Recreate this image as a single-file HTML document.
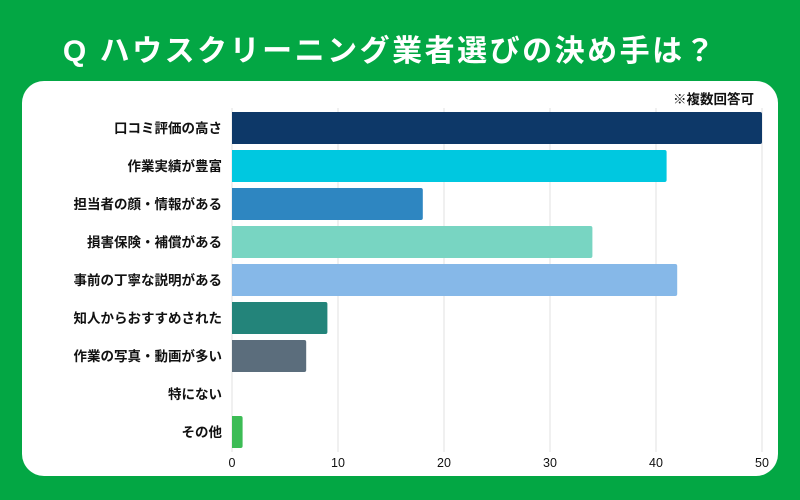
<!DOCTYPE html>
<html><head><meta charset="utf-8"><style>
body{margin:0;width:800px;height:500px;background:#03a744;font-family:"Liberation Sans","Noto Sans CJK JP",sans-serif;overflow:hidden;position:relative}
#title{position:absolute;left:0;top:26px;width:780px;text-align:center;color:#fff;font-size:30px;font-weight:bold;letter-spacing:2.5px}
#panel{position:absolute;left:22px;top:81px;width:756px;height:395px;background:#fff;border-radius:22px}
#note{position:absolute;right:46px;top:88px;font-size:13.5px;font-weight:bold;color:#111}
</style></head><body>
<div id="title">Q ハウスクリーニング業者選びの決め手は？</div>
<div id="panel"></div>
<div id="note">※複数回答可</div>
<svg id="chart" width="800" height="500" style="position:absolute;left:0;top:0"></svg>
<script>
const categories=["口コミ評価の高さ","作業実績が豊富","担当者の顔・情報がある","損害保険・補償がある","事前の丁寧な説明がある","知人からおすすめされた","作業の写真・動画が多い","特にない","その他"];
const values=[50,41,18,34,42,9,7,0,1];
const colors=["#0d3868","#00c8e0","#2e86c1","#78d5c2","#86b8e8","#23847a","#5b6d7c","#999","#3cbc55"];
const ticks=[0,10,20,30,40,50];
const svg=document.getElementById('chart');
const NS="http://www.w3.org/2000/svg";
const x0=232,x1=762,maxV=50;
const xs=v=>x0+(x1-x0)*v/maxV;
const yTop=112,step=38,barH=32;
const yc=i=>yTop+step*i+barH/2;
function mk(t,a){const e=document.createElementNS(NS,t);for(const k in a)e.setAttribute(k,a[k]);svg.appendChild(e);return e;}
ticks.forEach(t=>{
 const g=mk('line',{x1:xs(t),x2:xs(t),y1:108,y2:452,stroke:'#e2e2e2','stroke-width':1});
 
 
 const l=mk('text',{x:xs(t),y:467,'text-anchor':'middle','font-size':12.5,fill:'#111'});
 l.textContent=t;
 
 
});
categories.forEach((c,i)=>{
 const l=mk('text',{x:222,y:yc(i)+5,'text-anchor':'end','font-size':13.5,'font-weight':'bold',fill:'#111'});
 l.textContent=c;
 
 
 if(values[i]>0){
  const w=xs(values[i])-x0;
  const r=mk('path',{d:`M${x0} ${yc(i)-barH/2}h${w-2}q2 0 2 2v${barH-4}q0 2 -2 2h${-(w-2)}z`,fill:colors[i]});
  
  
 }
});
</script>
</body></html>
